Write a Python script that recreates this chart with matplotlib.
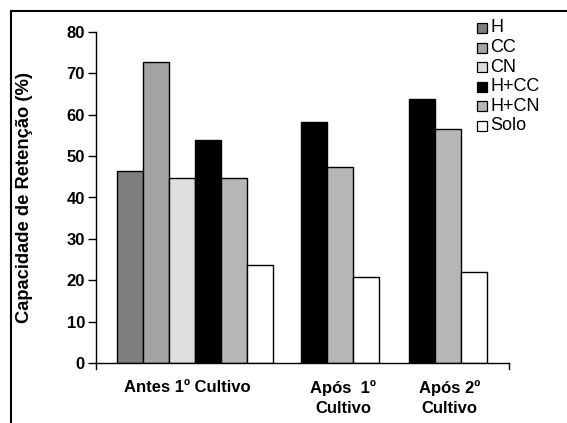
import matplotlib
matplotlib.use("Agg")
import matplotlib.pyplot as plt
from matplotlib.patches import Rectangle

plt.rcParams['font.family'] = ['Liberation Sans', 'DejaVu Sans']

groups = ["Antes 1º Cultivo", "Após  1º\nCultivo", "Após 2º\nCultivo"]
series = ["H", "CC", "CN", "H+CC", "H+CN", "Solo"]
val_H = [46.5, None, None]
val_CC = [72.8, None, None]
val_CN = [44.7, None, None]
val_HCC = [54.0, 58.3, 63.8]
val_HCN = [44.7, 47.3, 56.5]
val_Solo = [23.7, 20.7, 21.9]
yticks = [0, 10, 20, 30, 40, 50, 60, 70, 80]

values = [val_H, val_CC, val_CN, val_HCC, val_HCN, val_Solo]
colors = ["#7e7e7e", "#a4a4a4", "#dedede", "#000000", "#b6b6b6", "#ffffff"]

W, H = 567, 423
fig = plt.figure(figsize=(W / 100, H / 100), dpi=100)
ax = fig.add_axes([96 / W, 1 - 363 / H, (509 - 96) / W, (363 - 32) / H])

# layout: start of each group (in bar-width units) and label positions
group_start = [0.8, 7.88, 12.03]
label_pos = [3.5, 9.5, 13.6]

for g in range(len(groups)):
    k = 0
    for s in range(len(series)):
        v = values[s][g]
        if v is None:
            continue
        x = group_start[g] + 0.5 + k
        ax.bar(x, v, width=1.0, color=colors[s], edgecolor="black", linewidth=1.0)
        k += 1

xmax = (509 - 96) / 26
ax.set_xlim(0, xmax)
ax.set_ylim(0, 80)
ax.set_yticks(yticks)
ax.set_yticklabels([str(t) for t in yticks], fontsize=12, fontweight="bold")
ax.tick_params(axis="y", length=6, width=1, pad=2, direction="out")
ax.set_xticks(label_pos)
ax.set_xticklabels(groups, fontsize=12, fontweight="bold", va="top", linespacing=1.4)
ax.tick_params(axis="x", length=0, pad=12.5)
for xe in [0, xmax]:
    ax.plot([xe, xe], [0, -1.5], color="black", lw=1, clip_on=False)

ax.spines["top"].set_visible(False)
ax.spines["right"].set_visible(False)
for sp in ["left", "bottom"]:
    ax.spines[sp].set_linewidth(1.0)

ax.set_ylabel("Capacidade de Retenção (%)", fontsize=13.2, fontweight="bold")
ax.yaxis.set_label_coords(-(96 - 33) / (509 - 96), 0.5)

# legend drawn manually (tight rows)
for i, name in enumerate(series):
    yc = 28 + i * 19.6
    fig.add_artist(Rectangle((477 / W, 1 - (yc + 5) / H), 10 / W, 10 / H, transform=fig.transFigure,
                             facecolor=colors[i], edgecolor="black", linewidth=0.9))
    fig.text(490 / W, 1 - yc / H, name, fontsize=13, va="center", ha="left")

# outer frame (cropped at right and bottom)
fig.add_artist(Rectangle((11 / W, -0.1), 1.2, 1 - 11 / H + 0.1, transform=fig.transFigure,
                         fill=False, edgecolor="black", linewidth=1.5, clip_on=False))

fig.savefig("out.png", dpi=100)
